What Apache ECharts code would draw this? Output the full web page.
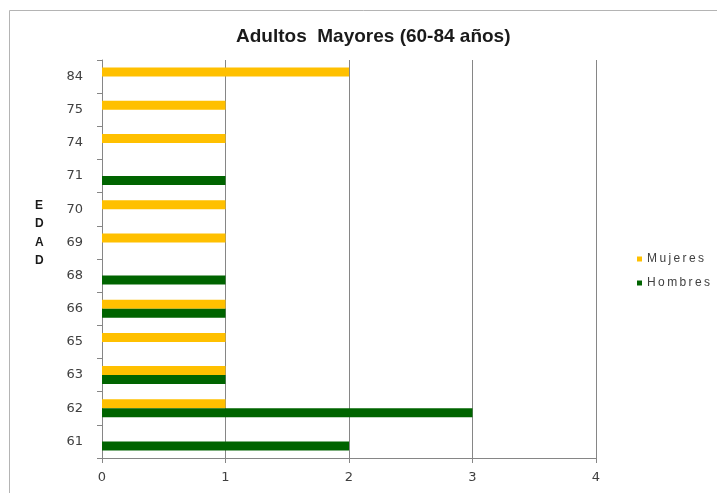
<!DOCTYPE html>
<html>
<head>
<meta charset="utf-8">
<script src="https://cdn.jsdelivr.net/npm/echarts@6/dist/echarts.min.js"></script>
<style>html,body{margin:0;padding:0;background:#fff}#c{width:717px;height:493px}</style>
</head>
<body>
<div id="c"></div>
<script>
var categories = ['61','62','63','65','66','68','69','70','71','74','75','84'];
var mujeres = [null, 1, 1, 1, 1, null, 1, 1, null, 1, 1, 2];
var hombres = [2, 3, 1, null, 1, 1, null, null, 1, null, null, null];
var xTicks = [0, 1, 2, 3, 4];
var titleText = 'Adultos  Mayores (60-84 años)';
var axisName = 'EDAD';

var chart = echarts.init(document.getElementById('c'));
var gray = '#868686';
var txt = '#404040';
chart.setOption({
  animation: false,
  backgroundColor: '#fff',
  title: {
    text: titleText,
    left: 231, top: 22,
    textStyle: {fontFamily: 'Liberation Sans, Arial', fontSize: 19, fontWeight: 'bold', color: '#1a1a1a'}
  },
  legend: {
    data: ['Mujeres', 'Hombres'],
    orient: 'vertical',
    left: 632, top: 248,
    itemWidth: 5, itemHeight: 5, itemGap: 12,
    icon: 'rect',
    formatter: function (n) { return n.split('').join('\u2009'); },
    textStyle: {fontFamily: 'Liberation Sans, Arial', fontSize: 12, color: txt}
  },
  grid: {left: 102, right: 121, top: 60, bottom: 35, containLabel: false},
  xAxis: {
    type: 'value', min: xTicks[0], max: xTicks[xTicks.length-1], interval: 1,
    axisLine: {show: true, lineStyle: {color: gray}},
    axisTick: {show: true, length: 5, lineStyle: {color: gray}},
    axisLabel: {color: txt, fontSize: 13, fontFamily: 'DejaVu Sans', margin: 13},
    splitLine: {show: true, lineStyle: {color: gray, width: 1}}
  },
  yAxis: {
    type: 'category', data: categories,
    axisLine: {show: true, lineStyle: {color: gray}},
    axisTick: {show: true, length: 5, alignWithLabel: false, lineStyle: {color: gray}},
    axisLabel: {color: txt, fontSize: 13, fontFamily: 'DejaVu Sans', margin: 19}
  },
  series: [
    {name: 'Mujeres', type: 'bar', data: mujeres, barWidth: 9, barGap: '0%', itemStyle: {color: '#FFC000'}},
    {name: 'Hombres', type: 'bar', data: hombres, barWidth: 9, barGap: '0%', itemStyle: {color: '#006400'}}
  ],
  graphic: [
    {type: 'rect', shape: {x: 9.5, y: 10.5, width: 800, height: 600}, style: {fill: 'none', stroke: '#B4B4B4', lineWidth: 1}, z: -10},
    {type: 'text', left: 35, top: 196, style: {text: axisName.split('').join('\n'), font: 'bold 12px "Liberation Sans", Arial', fill: '#1a1a1a', lineHeight: 18.5, align: 'center'}}
  ]
});
</script>
</body>
</html>
